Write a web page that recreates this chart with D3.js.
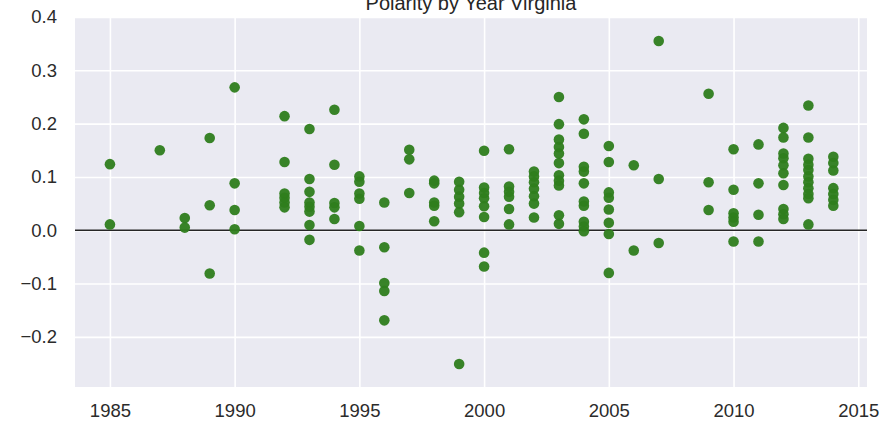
<!DOCTYPE html>
<html><head><meta charset="utf-8">
<script src="https://cdn.jsdelivr.net/npm/d3@7"></script>
<style>
html,body{margin:0;padding:0;background:#fff;}
svg{display:block;font-family:"Liberation Sans",Arial,sans-serif;}
</style></head>
<body><svg id="c" width="886" height="422"></svg>
<script>
const title = "Polarity by Year Virginia";
const years = [1985,1987,1988,1989,1990,1992,1993,1994,1995,1996,1997,1998,1999,2000,2001,2002,2003,2004,2005,2006,2007,2009,2010,2011,2012,2013,2014];
const polarity = [
  [0.124, 0.011],
  [0.150],
  [0.023, 0.005],
  [0.173, 0.047, -0.081],
  [0.268, 0.088, 0.038, 0.002],
  [0.214, 0.128, 0.069, 0.061, 0.052, 0.043],
  [0.190, 0.096, 0.072, 0.052, 0.044, 0.035, 0.010, -0.018],
  [0.226, 0.123, 0.051, 0.043, 0.021],
  [0.101, 0.091, 0.069, 0.059, 0.008, -0.038],
  [0.052, -0.032, -0.099, -0.114, -0.169],
  [0.151, 0.133, 0.070],
  [0.093, 0.088, 0.052, 0.046, 0.017],
  [0.091, 0.076, 0.063, 0.050, 0.034, -0.251],
  [0.149, 0.080, 0.070, 0.060, 0.045, 0.025, -0.042, -0.068],
  [0.152, 0.082, 0.072, 0.063, 0.040, 0.011],
  [0.110, 0.101, 0.090, 0.078, 0.064, 0.050, 0.024],
  [0.250, 0.199, 0.170, 0.156, 0.144, 0.126, 0.103, 0.093, 0.084, 0.028, 0.012],
  [0.208, 0.181, 0.119, 0.110, 0.088, 0.054, 0.046, 0.016, 0.007, -0.002],
  [0.158, 0.128, 0.071, 0.061, 0.039, 0.014, -0.007, -0.080],
  [0.122, -0.038],
  [0.355, 0.096, -0.024],
  [0.256, 0.090, 0.038],
  [0.152, 0.076, 0.032, 0.024, 0.016, -0.021],
  [0.161, 0.088, 0.029, -0.021],
  [0.192, 0.174, 0.144, 0.135, 0.122, 0.107, 0.085, 0.040, 0.030, 0.021],
  [0.234, 0.174, 0.134, 0.123, 0.113, 0.101, 0.090, 0.079, 0.068, 0.060, 0.011],
  [0.138, 0.126, 0.112, 0.079, 0.068, 0.057, 0.046]
];
const xTicks = [1985,1990,1995,2000,2005,2010,2015];
const yTicks = [-0.2,-0.1,0.0,0.1,0.2,0.3,0.4];
const xDomain = [1983.6, 2015.35];
const yDomain = [-0.294, 0.4];

const points = [];
years.forEach((yr,i)=>polarity[i].forEach(v=>points.push({year:yr,value:v})));

const m = {left:75, right:867, top:17, bottom:387};
const svg = d3.select("#c");
const x = d3.scaleLinear().domain(xDomain).range([m.left, m.right]);
const y = d3.scaleLinear().domain(yDomain).range([m.bottom, m.top]);

svg.append("rect").attr("x",m.left).attr("y",m.top)
  .attr("width",m.right-m.left).attr("height",m.bottom-m.top).attr("fill","#eaeaf2");

const fmtY = d => d3.format(".1f")(d).replace("-","\u2212");

const gx = svg.append("g").attr("transform",`translate(0,${m.bottom})`)
  .call(d3.axisBottom(x).tickValues(xTicks).tickFormat(d3.format("d")).tickSize(-(m.bottom-m.top)).tickPadding(17));
gx.select(".domain").remove();
gx.selectAll(".tick line").attr("stroke","#fff").attr("stroke-width",1.6);
gx.selectAll(".tick text").attr("fill","#2b2b2b").attr("font-size",18.5).attr("font-family","Liberation Sans, Arial, sans-serif");

const gy = svg.append("g").attr("transform",`translate(${m.left},0)`)
  .call(d3.axisLeft(y).tickValues(yTicks).tickFormat(fmtY).tickSize(-(m.right-m.left)).tickPadding(18));
gy.select(".domain").remove();
gy.selectAll(".tick line").attr("stroke","#fff").attr("stroke-width",1.6);
gy.selectAll(".tick text").attr("fill","#2b2b2b").attr("font-size",18.5).attr("font-family","Liberation Sans, Arial, sans-serif");

svg.append("line").attr("x1",m.left).attr("x2",m.right)
  .attr("y1",y(0)).attr("y2",y(0)).attr("stroke","#262626").attr("stroke-width",1.5);

svg.append("g").selectAll("circle").data(points).join("circle")
  .attr("cx",d=>x(d.year)).attr("cy",d=>y(d.value)).attr("r",5.3)
  .attr("fill","#2e7d1c").attr("fill-opacity",0.95);

svg.append("text").attr("x",(m.left+m.right)/2).attr("y",10)
  .attr("text-anchor","middle").attr("font-size",20).attr("fill","#262626").text(title);
</script></body></html>
